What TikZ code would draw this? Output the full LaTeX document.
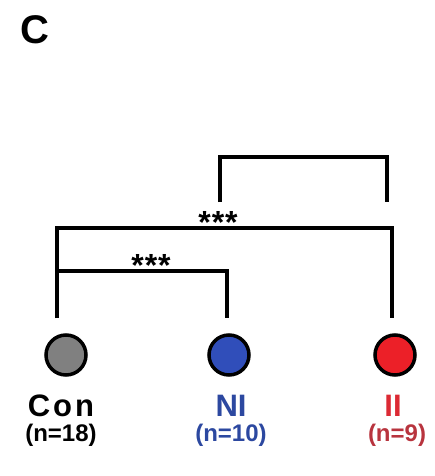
\documentclass[tikz,border=0pt]{standalone}
\usepackage{fontspec}
\setmainfont{Liberation Sans}
\usetikzlibrary{positioning}
\definecolor{congray}{RGB}{128,128,128}
\definecolor{niblue}{RGB}{48,78,186}
\definecolor{iired}{RGB}{236,32,40}
\definecolor{nitext}{RGB}{44,72,160}
\definecolor{iitext}{RGB}{220,42,52}
\definecolor{iicount}{RGB}{184,52,62}

\begin{document}
\begin{tikzpicture}[x=1pt, y=-1pt,
  dot/.style={circle, draw=black, line width=3.5pt, minimum size=40pt, inner sep=0pt},
  grp/.style={font=\bfseries\fontsize{31}{31}\selectfont, inner sep=0pt},
  cnt/.style={font=\bfseries\fontsize{24}{24}\selectfont, inner sep=0pt},
  sig/.style={font=\bfseries\fontsize{32}{32}\selectfont, inner sep=0pt},
  bar/.style={draw, line width=3.5pt}
]
\useasboundingbox (0,0) rectangle (435,476);

\node [font=\bfseries\fontsize{40}{40}\selectfont, inner sep=0pt] (panel) at (35,30) {C};

% groups
\node [dot, fill=congray] (con) at (66,355) {};
\node [dot, fill=niblue] (ni) at (229,355) {};
\node [dot, fill=iired] (ii) at (395,355) {};

\node [grp, below=18pt of con, xshift=-5pt] (conlbl) {C\kern3pt o\kern3pt n};
\node [grp, below=18pt of ni, xshift=2pt, text=nitext] (nilbl) {NI};
\node [grp, below=18pt of ii, xshift=-2pt, text=iitext] (iilbl) {II};

\node [cnt, below=7pt of conlbl] (concnt) {(n=18)};
\node [cnt, below=7pt of nilbl, text=nitext] (nicnt) {(n=10)};
\node [cnt, below=7pt of iilbl, xshift=4pt, text=iicount] (iicnt) {(n=9)};

% bracket feet
\coordinate (conft) at (57,318);
\coordinate (nift) at (227,318);
\coordinate (iift) at (392,318);
\coordinate (toplft) at (220,202);
\coordinate (toprgt) at (387,202);

\path [bar] (conft) -- ++(0,-47) -| (nift);
\path [bar] (conft) -- ++(0,-90) -| (iift);
\path [bar] (toplft) -- ++(0,-45) -| (toprgt);

\node [sig] (sigconni) at (151,265) {*\kern1pt*\kern1pt*};
\node [sig] (sigconii) at (218,222) {*\kern1pt*\kern1pt*};
\end{tikzpicture}
\end{document}
